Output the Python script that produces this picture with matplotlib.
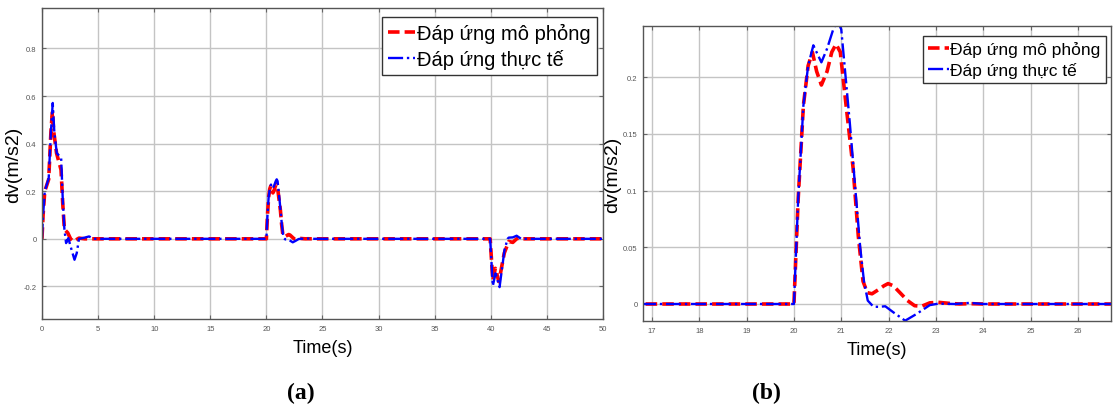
import matplotlib
matplotlib.use('Agg')
import matplotlib.pyplot as plt

# simulated response (red dashed)
t_sim = [0, 0.1, 0.25, 0.6, 0.8, 0.93, 1.05, 1.3, 1.7, 1.85, 2.0, 2.3, 2.55, 2.8, 3.3, 3.8,
         20.0, 20.09, 20.2, 20.3, 20.39, 20.48, 20.58, 20.7, 20.8, 20.89, 20.98, 21.11, 21.25,
         21.36, 21.46, 21.55, 21.65, 21.8, 21.9, 21.99, 22.1, 22.24, 22.4, 22.55, 22.7, 22.87,
         23.05, 23.3, 23.5, 23.72, 24.0,
         39.94, 40.18, 40.4, 40.72, 41.2, 41.6, 41.96, 42.3, 42.5, 42.8, 50]
v_sim = [0, 0.1, 0.2, 0.25, 0.45, 0.536, 0.45, 0.36, 0.29, 0.15, 0.04, 0.025, 0.0, -0.011, 0.003, 0,
         0, 0.093, 0.175, 0.210, 0.222, 0.205, 0.193, 0.205, 0.222, 0.229, 0.222, 0.172, 0.12,
         0.06, 0.02, 0.01, 0.009, 0.013, 0.016, 0.018, 0.016, 0.010, 0.003, -0.0015, -0.002, 0.001,
         0.0015, 0.0005, 0.0, 0.0003, 0,
         0, -0.175, -0.124, -0.18, -0.06, -0.011, -0.015, 0, 0.003, 0, 0]

# measured response (blue dash-dot)
t_real = [0, 0.1, 0.25, 0.6, 0.8, 0.96, 1.1, 1.32, 1.71, 1.85, 2.0, 2.15, 2.35, 2.6, 2.9, 3.1,
          3.3, 3.8, 4.2, 4.6,
          20.0, 20.09, 20.2, 20.3, 20.41, 20.5, 20.58, 20.7, 20.83, 20.92, 21.0, 21.18, 21.3,
          21.4, 21.48, 21.56, 21.68, 21.8, 21.93, 22.1, 22.35, 22.59, 22.87, 23.05, 23.4, 23.72, 24.0,
          39.94, 40.18, 40.42, 40.78, 41.22, 41.5, 41.6, 41.96, 42.3, 42.7, 50]
v_real = [0, 0.1, 0.2, 0.255, 0.45, 0.571, 0.45, 0.36, 0.34, 0.17, 0.04, -0.018, 0.003, -0.04,
          -0.088, -0.06, 0.0, 0.005, 0.01, 0,
          0, 0.093, 0.175, 0.210, 0.228, 0.220, 0.213, 0.225, 0.242, 0.250, 0.242, 0.16, 0.10,
          0.05, 0.02, 0.003, -0.0024, -0.0025, -0.002, -0.0073, -0.0147, -0.0088, -0.001, 0.0003,
          0.0, 0.001, 0,
          0, -0.198, -0.145, -0.203, -0.046, 0, 0.005, 0.006, 0.013, 0, 0]

label_sim = 'Đáp ứng mô phỏng'
label_real = 'Đáp ứng thực tế'

xticks_a = list(range(0, 51, 5))
yticks_a = [-0.2, 0, 0.2, 0.4, 0.6, 0.8]
yticklabels_a = ['-0.2', '0', '0.2', '0.4', '0.6', '0.8']
xticks_b = list(range(17, 27))
yticks_b = [0, 0.05, 0.1, 0.15, 0.2]
yticklabels_b = ['0', '0.05', '0.1', '0.15', '0.2']

plt.rcParams['font.family'] = ['Liberation Sans', 'DejaVu Sans']

fig = plt.figure(figsize=(11.13, 4.10), dpi=100)
ax_a = fig.add_axes([0.0377, 0.2195, 0.5041, 0.7585])
ax_b = fig.add_axes([0.5777, 0.2146, 0.4205, 0.7195])


def style_axes(ax, xlim, ylim, xticks, yticks, yticklabels, leg_anchor, leg_size, hlen):
    ax.plot(t_sim, v_sim, color='#ff0000', ls=(0, (3.2, 1.4)), lw=2.6, label=label_sim)
    ax.plot(t_real, v_real, color='#0000ff', ls='-.', lw=1.7, label=label_real)
    ax.set_xlim(*xlim)
    ax.set_ylim(*ylim)
    ax.set_xticks(xticks)
    ax.set_yticks(yticks)
    ax.set_yticklabels(yticklabels)
    ax.grid(True, color='#c4c4c4', lw=1.0)
    ax.set_axisbelow(True)
    ax.tick_params(direction='in', length=3, labelsize=5.5, labelcolor='#555555',
                   color='#666666', top=True, right=True, pad=4)
    for s in ax.spines.values():
        s.set_color('#555555')
        s.set_linewidth(1.0)
    ax.set_xlabel('Time(s)', fontsize=13, labelpad=5)
    ax.set_ylabel('dv(m/s2)', fontsize=14, labelpad=1)
    leg = ax.legend(loc='upper right', bbox_to_anchor=leg_anchor, fontsize=leg_size,
                    handlelength=hlen, handletextpad=0.1, borderpad=0.3,
                    labelspacing=0.3, borderaxespad=0.3, fancybox=False, framealpha=1)
    leg.get_frame().set_edgecolor('#333333')
    leg.get_frame().set_linewidth(1.0)


style_axes(ax_a, (0, 50), (-0.337, 0.97), xticks_a, yticks_a, yticklabels_a,
           (1.0, 0.99), 14.5, 1.35)
style_axes(ax_b, (16.81, 26.7), (-0.015, 0.245), xticks_b, yticks_b, yticklabels_b,
           (1.0, 0.985), 12.5, 1.2)

fig.text(0.270, 0.04, '(a)', fontsize=17, fontweight='bold', family='Liberation Serif',
         ha='center', va='center')
fig.text(0.689, 0.04, '(b)', fontsize=17, fontweight='bold', family='Liberation Serif',
         ha='center', va='center')

fig.savefig('out.png', dpi=100)
